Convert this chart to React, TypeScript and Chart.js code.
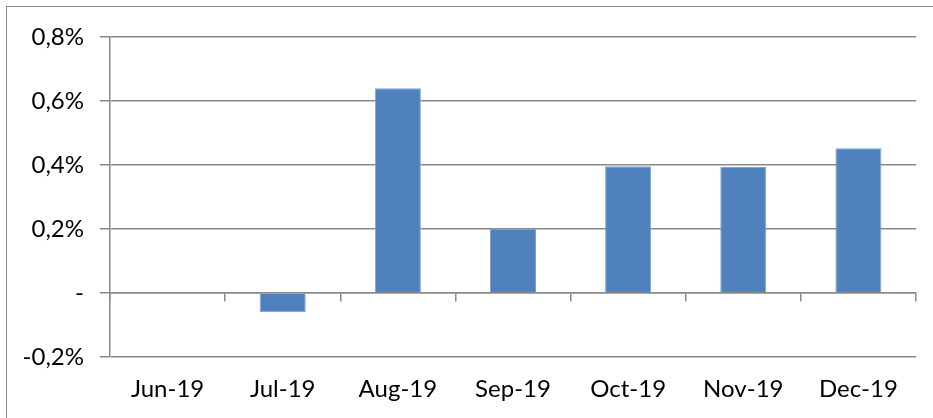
import React, { useEffect, useRef } from "react";
import { Chart, registerables } from "chart.js";

Chart.register(...registerables);

const categories = ["Jun-19", "Jul-19", "Aug-19", "Sep-19", "Oct-19", "Nov-19", "Dec-19"];
const values = [0, -0.06, 0.64, 0.2, 0.396, 0.394, 0.452];
const yMin = -0.2;
const yMax = 0.8;
const yStep = 0.2;

const GRID = "#8a8a8a";
const FONT = { family: "Lato, 'Noto Sans', sans-serif", size: 24 };

export default function App() {
  const ref = useRef<HTMLCanvasElement | null>(null);

  useEffect(() => {
    if (!ref.current) return;
    const chart = new Chart(ref.current, {
      type: "bar",
      data: {
        labels: categories,
        datasets: [
          {
            data: values,
            backgroundColor: "#4f81bd",
            borderColor: "#7fa3d1",
            borderWidth: 1,
            categoryPercentage: 1,
            barPercentage: 0.4,
            xAxisID: "x",
            yAxisID: "y",
          },
        ],
      },
      options: {
        animation: false,
        responsive: false,
        maintainAspectRatio: false,
        layout: { padding: { top: 37, right: 17, left: 0, bottom: 0 } },
        plugins: { legend: { display: false }, tooltip: { enabled: false } },
        scales: {
          x: {
            type: "category",
            position: "bottom",
            offset: true,
            grid: { display: false, drawTicks: false },
            border: { display: false },
            ticks: { color: "#000", font: FONT, padding: 18, maxRotation: 0 },
            afterFit: (s: any) => {
              s.height = 61;
            },
          },
          x2: {
            type: "category",
            labels: categories,
            position: { y: 0 },
            offset: true,
            grid: {
              offset: true,
              drawOnChartArea: false,
              drawTicks: true,
              tickLength: 8,
              color: GRID,
              lineWidth: 1.5,
            },
            border: { display: true, color: GRID, width: 1.5 },
            ticks: { display: false },
          },
          y: {
            min: yMin,
            max: yMax,
            ticks: {
              stepSize: yStep,
              color: "#000",
              font: FONT,
              padding: 16,
              callback: (v: any) => {
                const n = Number(v);
                if (Math.abs(n) < 1e-9) return "-";
                return n.toFixed(1).replace(".", ",") + "%";
              },
            },
            grid: { color: GRID, lineWidth: 1.5, tickLength: 10 },
            border: { display: true, color: GRID, width: 1.5 },
            afterFit: (s: any) => {
              s.width = 110;
            },
          },
        },
      },
    });
    return () => chart.destroy();
  }, []);

  return (
    <div
      style={{
        position: "fixed",
        left: 0,
        top: 0,
        width: 933,
        height: 418,
        overflow: "hidden",
        background: "#fff",
      }}
    >
      <div
        style={{
          position: "absolute",
          left: 6,
          top: 6,
          width: 960,
          height: 440,
          border: "1.5px solid #8a8a8a",
        }}
      />
      <canvas ref={ref} width={933} height={418} style={{ position: "absolute", left: 0, top: 0 }} />
    </div>
  );
}
